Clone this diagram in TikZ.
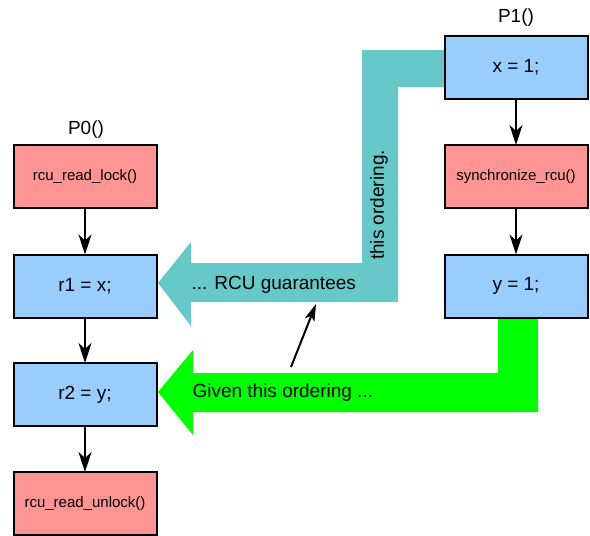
\documentclass[tikz,border=0pt]{standalone}
\usepackage{fontspec}
\setmainfont{Liberation Sans}
\usetikzlibrary{arrows.meta}
\definecolor{boxblue}{HTML}{99CCFF}
\definecolor{boxpink}{HTML}{FF9494}
\definecolor{teal2}{HTML}{66C8C8}
\definecolor{green2}{HTML}{00FF00}
\begin{document}
\begin{tikzpicture}[x=1pt,y=-1pt,
  stmt/.style={draw=black,line width=2pt,minimum width=143pt,minimum height=63pt,inner sep=0pt,font=\fontsize{19}{22}\selectfont},
  bluebox/.style={stmt,fill=boxblue},
  pinkbox/.style={stmt,fill=boxpink,font=\fontsize{15}{18}\selectfont},
  flow/.style={-{Stealth[length=20pt,width=13pt,inset=6pt]},line width=2pt,shorten >=-1pt},
  lbl/.style={font=\fontsize{19}{22}\selectfont}]
\useasboundingbox (0,0) rectangle (590,536);
% teal band
\fill[teal2] (446,50) -- (362,50) -- (362,263) -- (191,263) -- (191,242) -- (158,283) -- (191,326) -- (191,302) -- (398,302) -- (398,87) -- (446,87) -- cycle;
% green band
\fill[green2] (498,316) -- (498,373) -- (193,373) -- (193,350) -- (158,392) -- (193,435) -- (193,412) -- (538,412) -- (538,316) -- cycle;
% left column
\node[pinkbox] (lock) at (85,176.5) {rcu\_read\_lock()};
\node[bluebox] (r1) at (85,286) {r1 = x;};
\node[bluebox] (r2) at (85,394.5) {r2 = y;};
\node[pinkbox] (unlock) at (85,503.5) {rcu\_read\_unlock()};
\node[lbl] (p0) at (86,130) {P0()};
% right column
\node[bluebox] (x1) at (516,67.5) {x = 1;};
\node[pinkbox] (sync) at (516,176.5) {synchronize\_rcu()};
\node[bluebox] (y1) at (516,286) {y = 1;};
\node[lbl] (p1) at (516,18) {P1()};
% flow arrows
\draw[flow] (lock) -- (r1);
\draw[flow] (r1) -- (r2);
\draw[flow] (r2) -- (unlock);
\draw[flow] (x1) -- (sync);
\draw[flow] (sync) -- (y1);
% band labels
\node[lbl,anchor=west] (guar) at (188,285) {... RCU guarantees};
\node[lbl,anchor=west] (given) at (189,393) {Given this ordering ...};
\node[lbl,rotate=90] (thisord) at (379,205) {this ordering.};
% pointer
\coordinate (ptail) at (291,367);
\coordinate (phead) at (316,304);
\draw[-{Stealth[length=17pt,width=10pt,inset=4pt]},line width=2pt] (ptail) -- (phead);
\end{tikzpicture}
\end{document}
